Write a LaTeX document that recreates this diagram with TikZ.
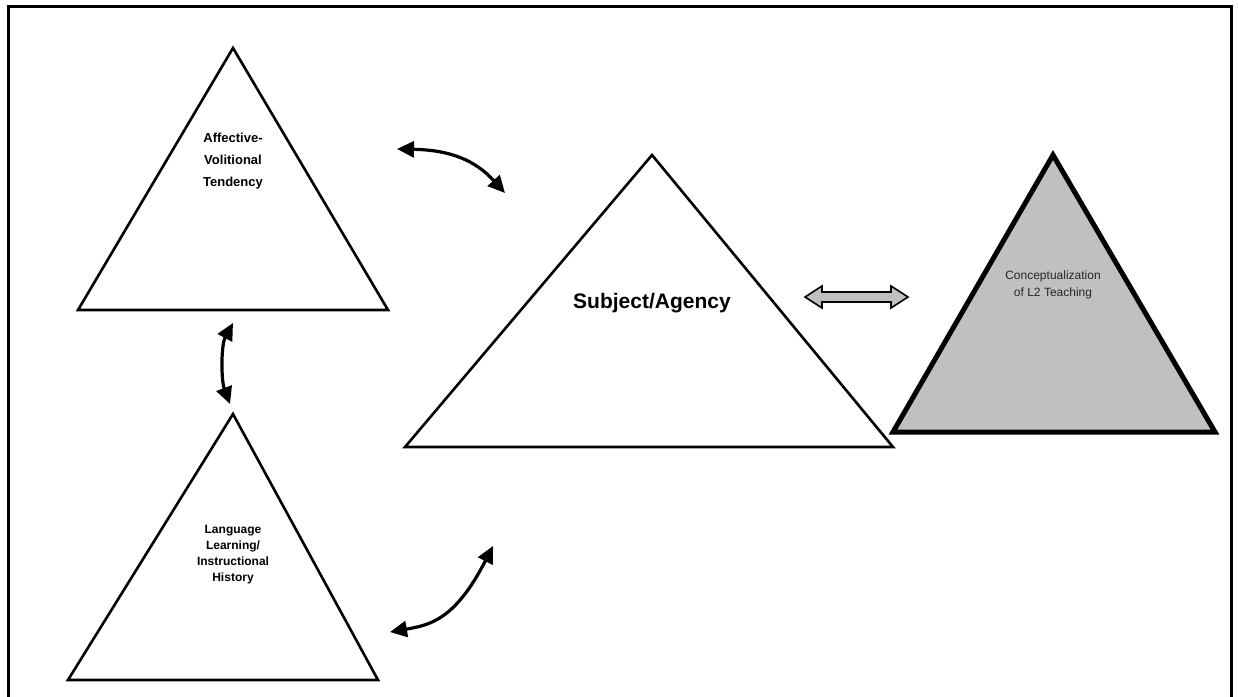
\documentclass[tikz,border=0pt]{standalone}
\usepackage{fontspec}
\setmainfont{Liberation Sans}
\usetikzlibrary{arrows.meta}
\definecolor{conceptgray}{RGB}{192,192,192}
\begin{document}
\begin{tikzpicture}[x=1pt,y=-1pt,
  tri/.style={draw=black,line width=2.6pt,line join=miter,fill=white},
  conctri/.style={draw=black,line width=5pt,line join=miter,fill=conceptgray},
  link/.style={line width=3.2pt,{Triangle[length=17pt,width=16pt]}-{Triangle[length=17pt,width=16pt]}},
  lbl/.style={align=center,inner sep=0pt,font=\bfseries\fontsize{13}{22}\selectfont},
]
\useasboundingbox (0,0) rectangle (1238,696);
% outer frame (open at the bottom edge of the page)
\draw[line width=3pt] (8,704) -- (8,6) -- (1231,6) -- (1231,704);

% triangles
\draw[tri] (233,48) -- (388,310) -- (78,310) -- cycle;
\draw[tri] (233,414) -- (378,680) -- (68,680) -- cycle;
\draw[tri] (652,155) -- (893,447) -- (405,447) -- cycle;
\draw[conctri] (1053,155) -- (1215,432) -- (893,432) -- cycle;

% labels
\node[lbl] (affect) at (233,161) {Affective-\\Volitional\\Tendency};
\node[lbl,font=\bfseries\fontsize{12}{16}\selectfont] (history) at (233,555) {Language\\Learning/\\Instructional\\History};
\node[inner sep=0pt,font=\bfseries\fontsize{21}{25}\selectfont] (subject) at (652,303) {Subject/Agency};
\node[align=center,inner sep=0pt,text=black!85,font=\fontsize{12}{17}\selectfont] (concept) at (1053,285) {Conceptualization\\of L2 Teaching};

% connector end points
\coordinate (a1) at (397,149);
\coordinate (a2) at (505,193);
\coordinate (b1) at (233,323);
\coordinate (b2) at (230,404);
\coordinate (c1) at (390,632);
\coordinate (c2) at (493,546);
\coordinate (d1) at (805,297);
\coordinate (d2) at (908,297);

% curved double arrows
\draw[link] (a1) .. controls (450,150) and (475,160) .. (a2);
\draw[link] (b1) .. controls (221,345) and (221,380) .. (b2);
\draw[link] (c1) .. controls (430,625) and (455,620) .. (c2);

% grey block double arrow
\draw[line width=1.6pt,fill=conceptgray,line join=miter]
  (d1) -- ++(17,-11) -- ++(0,6) -- ++(69,0) -- ++(0,-6) -- (d2)
  -- ++(-17,11) -- ++(0,-6) -- ++(-69,0) -- ++(0,6) -- cycle;
\end{tikzpicture}
\end{document}
